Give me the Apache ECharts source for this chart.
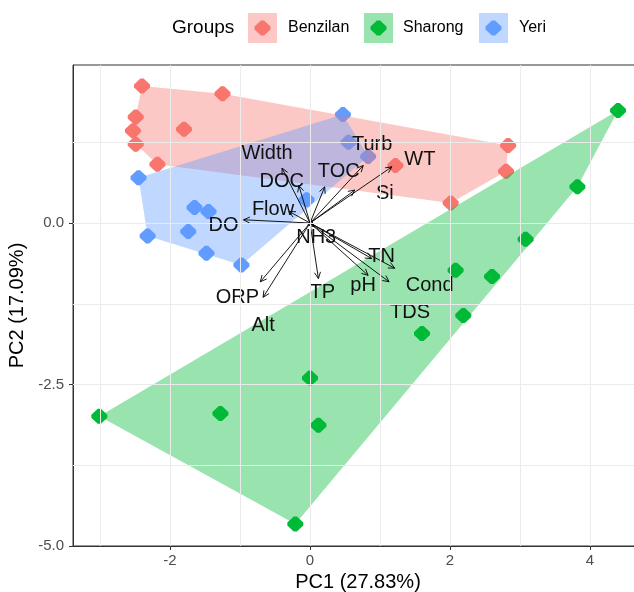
<!DOCTYPE html>
<html>
<head>
<meta charset="utf-8">
<script src="https://cdn.jsdelivr.net/npm/echarts@6/dist/echarts.min.js"></script>
<style>
  html, body { margin: 0; padding: 0; background: #ffffff; }
  #chart { width: 634px; height: 592px; }
</style>
</head>
<body>
<div id="chart"></div>
<script>
// ---- PCA scores per sampling group ----
const groups = ['Benzilan', 'Sharong', 'Yeri'];
const benzilanPC1 = [-2.40, -1.25, -2.49, -2.53, -2.49, -1.80, -2.18, 2.83, 2.80, 2.01, 1.22];
const benzilanPC2 = [2.12, 2.00, 1.64, 1.43, 1.22, 1.45, 0.91, 1.20, 0.80, 0.31, 0.89];
const sharongPC1 = [4.40, 3.82, 3.08, 2.08, 2.60, 2.19, 1.60, -3.01, -1.28, 0.00, 0.12, -0.21];
const sharongPC2 = [1.74, 0.56, -0.25, -0.73, -0.83, -1.43, -1.71, -2.99, -2.95, -2.40, -3.13, -4.66];
const yeriPC1 = [0.47, 0.55, 0.83, -2.45, -1.65, -1.45, -1.74, -2.32, -1.48, -0.98, -0.05];
const yeriPC2 = [1.68, 1.25, 1.03, 0.70, 0.24, 0.18, -0.13, -0.20, -0.47, -0.65, 0.36];

// ---- variable loadings (arrow tips) ----
const variables = ['DO', 'Flow', 'Width', 'DOC', 'TOC', 'Turb', 'WT', 'Si', 'NH3', 'TN', 'Cond', 'pH', 'TDS', 'TP', 'ORP', 'Alt'];
const loadPC1 = [-0.95, -0.30, -0.40, -0.16, 0.21, 0.76, 1.17, 0.64, 0.06, 0.88, 1.21, 0.83, 1.13, 0.12, -0.71, -0.67];
const loadPC2 = [0.05, 0.18, 0.85, 0.58, 0.56, 0.89, 0.87, 0.51, -0.06, -0.55, -0.70, -0.81, -0.91, -0.86, -0.91, -1.15];

// ---- axes ----
const xTicks = [-2, 0, 2, 4];
const yTicks = [-5, -2.5, 0];
const xGridLines = [-3, -2, -1, 0, 1, 2, 3, 4];
const yGridLines = [-3.75, -2.5, -1.25, 0, 1.25];
const xTitle = 'PC1 (27.83%)';
const yTitle = 'PC2 (17.09%)';
const legendTitle = 'Groups';

// ---- styling ----
const FONT = '"Liberation Sans", Arial, Helvetica, sans-serif';
const groupColors = ['#F8766D', '#00BA38', '#619CFF'];
const hullAlpha = 0.4;
// pixel nudges that keep the arrow labels clear of their tips
const labelNudge = {
  DO: [-20, 6], Flow: [-16, -2], Width: [-15, -15], DOC: [-17, -4],
  TOC: [14, -15], Turb: [9, -21], WT: [28, -7], Si: [30, 3],
  NH3: [2, 11], TN: [10, -2], Cond: [35, 17], pH: [-5, 10],
  TDS: [21, 31], TP: [4, 14], ORP: [-23, 16], Alt: [0, 28]
};

const scoreSets = [
  [benzilanPC1, benzilanPC2],
  [sharongPC1, sharongPC2],
  [yeriPC1, yeriPC2]
];

function rgba(hex, a) {
  const n = parseInt(hex.slice(1), 16);
  return 'rgba(' + (n >> 16 & 255) + ',' + (n >> 8 & 255) + ',' + (n & 255) + ',' + a + ')';
}

// Monotone-chain convex hull
function convexHull(pts) {
  const p = pts.slice().sort((a, b) => a[0] - b[0] || a[1] - b[1]);
  const cross = (o, a, b) => (a[0] - o[0]) * (b[1] - o[1]) - (a[1] - o[1]) * (b[0] - o[0]);
  const lower = [];
  for (const q of p) {
    while (lower.length >= 2 && cross(lower[lower.length - 2], lower[lower.length - 1], q) <= 0) lower.pop();
    lower.push(q);
  }
  const upper = [];
  for (let i = p.length - 1; i >= 0; i--) {
    const q = p[i];
    while (upper.length >= 2 && cross(upper[upper.length - 2], upper[upper.length - 1], q) <= 0) upper.pop();
    upper.push(q);
  }
  upper.pop(); lower.pop();
  return lower.concat(upper);
}

// Diamond point glyph with blunted tips
const glyphFrac = [[0.40, 0], [0.60, 0], [1, 0.40], [1, 0.60], [0.60, 1], [0.40, 1], [0, 0.60], [0, 0.40]];
const pointSymbol = 'path://' + glyphFrac.map((p, i) => (i ? 'L' : 'M') + (p[0] * 10) + ',' + (p[1] * 10)).join(' ') + ' Z';
function glyphPoints(cx, cy, w, h) {
  return glyphFrac.map(([u, v]) => [cx - w / 2 + u * w, cy - h / 2 + v * h]);
}

const series = [];

// background grid lines (major + minor)
series.push({
  type: 'scatter', data: [], z: 1, silent: true,
  markLine: {
    silent: true, symbol: 'none', animation: false,
    label: { show: false },
    lineStyle: { color: '#EBEBEB', width: 1, type: 'solid' },
    data: xGridLines.map(v => ({ xAxis: v })).concat(yGridLines.map(v => ({ yAxis: v })))
  }
});

// points (drawn first; hulls are laid over them)
groups.forEach((g, gi) => {
  const [xs, ys] = scoreSets[gi];
  series.push({
    name: g, type: 'scatter', z: 2,
    symbol: pointSymbol, symbolSize: [16, 15],
    itemStyle: { color: groupColors[gi], opacity: 1 },
    data: xs.map((x, i) => [x, ys[i]]),
    animation: false
  });
});

// convex hulls
groups.forEach((g, gi) => {
  const [xs, ys] = scoreSets[gi];
  const hull = convexHull(xs.map((x, i) => [x, ys[i]]));
  series.push({
    type: 'custom', z: 3, silent: true, animation: false,
    data: hull,
    renderItem: function (params, api) {
      if (params.dataIndex !== 0) return null;
      return {
        type: 'polygon',
        shape: { points: hull.map(p => api.coord(p)) },
        style: { fill: rgba(groupColors[gi], hullAlpha), stroke: null }
      };
    }
  });
});

// loading arrows with labels
series.push({
  type: 'custom', z: 4, silent: true, animation: false,
  data: variables.map((v, i) => [loadPC1[i], loadPC2[i], v]),
  renderItem: function (params, api) {
    const o = api.coord([0, 0]);
    const e = api.coord([api.value(0), api.value(1)]);
    const name = variables[params.dataIndex];
    const a = Math.atan2(e[1] - o[1], e[0] - o[0]);
    const L = 7, th = 0.45;
    const h1 = [e[0] - L * Math.cos(a - th), e[1] - L * Math.sin(a - th)];
    const h2 = [e[0] - L * Math.cos(a + th), e[1] - L * Math.sin(a + th)];
    const nd = labelNudge[name] || [0, 0];
    return {
      type: 'group',
      children: [
        { type: 'line', shape: { x1: o[0], y1: o[1], x2: e[0], y2: e[1] },
          style: { stroke: '#000', lineWidth: 0.9 } },
        { type: 'polyline', shape: { points: [h1, e, h2] },
          style: { stroke: '#000', lineWidth: 0.9, fill: null } },
        { type: 'text', z2: 10, x: e[0] + nd[0], y: e[1] + nd[1],
          style: { text: name, fill: '#111', font: '20px ' + FONT, align: 'center', verticalAlign: 'middle' } }
      ]
    };
  }
});

// legend built from the group list
const legendKeyX = [248, 364, 479];
const legendTextX = [288, 403, 519];
const legendY = 28;
const graphic = [{
  type: 'text', x: 172, y: legendY, silent: true,
  style: { text: legendTitle, font: '19px ' + FONT, fill: '#000', verticalAlign: 'middle' }
}];
groups.forEach((g, gi) => {
  graphic.push({
    type: 'rect', silent: true,
    shape: { x: legendKeyX[gi], y: legendY - 15, width: 29, height: 30 },
    style: { fill: rgba(groupColors[gi], hullAlpha) }
  });
  graphic.push({
    type: 'polygon', silent: true,
    shape: { points: glyphPoints(legendKeyX[gi] + 14.5, legendY, 16, 15) },
    style: { fill: groupColors[gi] }
  });
  graphic.push({
    type: 'text', x: legendTextX[gi], y: legendY, silent: true,
    style: { text: g, font: '16px ' + FONT, fill: '#000', verticalAlign: 'middle' }
  });
});

const option = {
  backgroundColor: '#ffffff',
  animation: false,
  textStyle: { fontFamily: FONT },
  grid: {
    left: 73, top: 65, width: 570, height: 481,
    outerBoundsMode: 'none', containLabel: false,
    show: true, borderColor: '#333333', borderWidth: 1, backgroundColor: 'transparent'
  },
  xAxis: {
    type: 'value', min: -3.386, max: 4.757,
    axisLine: { show: true, onZero: false, lineStyle: { color: '#333333', width: 1 } },
    axisTick: { show: true, customValues: xTicks, length: 4, lineStyle: { color: '#333333' } },
    axisLabel: { customValues: xTicks, color: '#4D4D4D', fontSize: 15, margin: 7,
      formatter: v => String(v) },
    splitLine: { show: false },
    name: xTitle, nameLocation: 'middle', nameGap: 24,
    nameTextStyle: { color: '#000', fontSize: 20, fontFamily: FONT }
  },
  yAxis: {
    type: 'value', min: -5.0, max: 2.446,
    axisLine: { show: true, onZero: false, lineStyle: { color: '#333333', width: 1 } },
    axisTick: { show: true, customValues: yTicks, length: 4, lineStyle: { color: '#333333' } },
    axisLabel: { customValues: yTicks, color: '#4D4D4D', fontSize: 15, margin: 9,
      formatter: v => v.toFixed(1) },
    splitLine: { show: false },
    name: yTitle, nameLocation: 'middle', nameRotate: 90, nameGap: 40,
    nameTextStyle: { color: '#000', fontSize: 20, fontFamily: FONT }
  },
  graphic: graphic,
  series: series
};

const chart = echarts.init(document.getElementById('chart'), null, { renderer: 'canvas' });
chart.setOption(option);
</script>
</body>
</html>
